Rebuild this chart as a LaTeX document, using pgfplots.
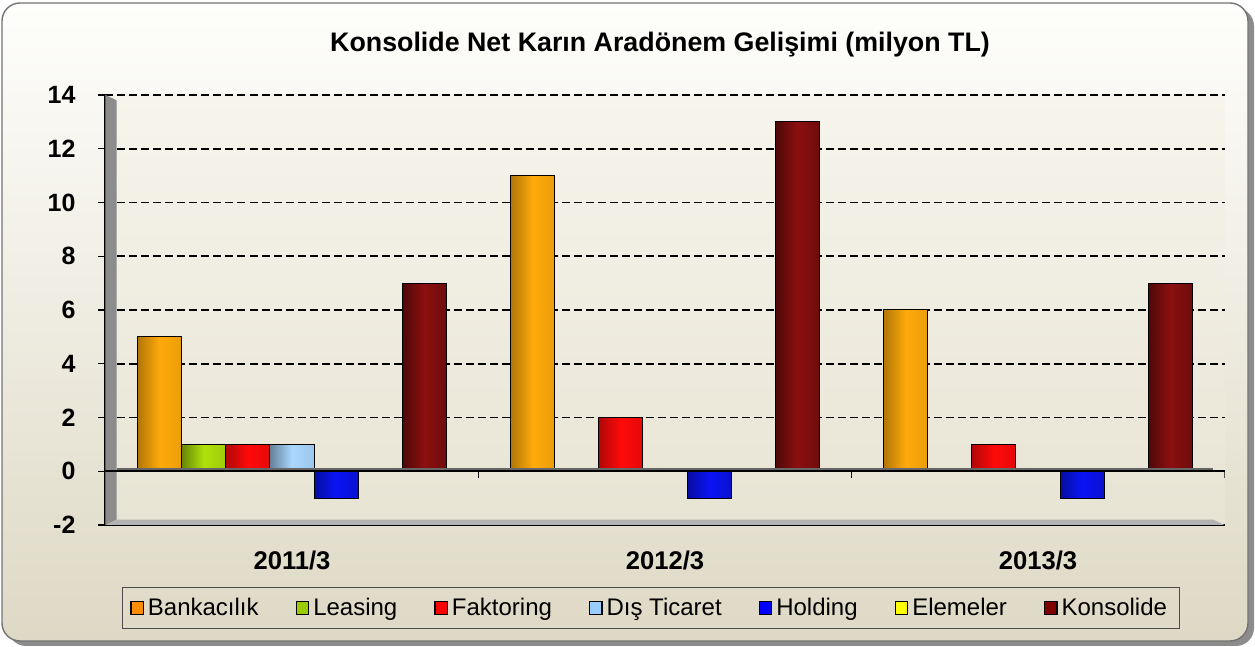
\documentclass[border=0pt]{standalone}
\usepackage{fontspec}
\setmainfont{Liberation Sans}
\usepackage{pgfplots}
\pgfplotsset{compat=1.18}
\definecolor{cBank}{RGB}{255,170,10}
\definecolor{cLeas}{RGB}{175,225,10}
\definecolor{cFakt}{RGB}{255,10,10}
\definecolor{cDis}{RGB}{170,215,255}
\definecolor{cHold}{RGB}{10,20,245}
\definecolor{cElem}{RGB}{255,255,0}
\definecolor{cKons}{RGB}{140,15,15}
\definecolor{lBank}{RGB}{255,140,0}
\definecolor{lLeas}{RGB}{153,204,0}
\definecolor{lFakt}{RGB}{255,0,0}
\definecolor{lDis}{RGB}{153,204,255}
\definecolor{lHold}{RGB}{0,0,255}
\definecolor{lElem}{RGB}{255,255,0}
\definecolor{lKons}{RGB}{128,0,0}
\definecolor{bgTop}{RGB}{254,254,252}
\definecolor{bgBot}{RGB}{222,217,197}
\definecolor{paTop}{RGB}{246,244,236}
\definecolor{paBot}{RGB}{232,228,212}
\pgfplotsset{
  sBank/.style={left color=cBank!70!black, right color=cBank!92!black, middle color=cBank},
  sLeas/.style={left color=cLeas!60!black, right color=cLeas!90!black, middle color=cLeas},
  sFakt/.style={left color=cFakt!70!black, right color=cFakt!90!black, middle color=cFakt},
  sDis/.style={left color=cDis!60!black, right color=cDis!92!black, middle color=cDis},
  sHold/.style={left color=cHold!65!black, right color=cHold!85!black, middle color=cHold},
  sElem/.style={left color=cElem!70!black, right color=cElem!90!black, middle color=cElem},
  sKons/.style={left color=cKons!55!black, right color=cKons!80!black, middle color=cKons},
}
\newcommand\onebar[4]{\addplot[forget plot, #1, bar shift=#2] coordinates {(#3,#4)};}
\newcommand\legbox[1]{\addlegendimage{legend image code/.code={\fill[#1] (0pt,-3.3pt) rectangle (6.2pt,3.3pt);
     \draw[black, line width=0.6pt] (0pt,-3.3pt) rectangle (6.2pt,3.3pt);}}}
\begin{document}
\begin{tikzpicture}
\begin{scope}[x=0.5pt,y=0.5pt]
\useasboundingbox (0,0) rectangle (1255,647);
\fill[black!45, rounded corners=9pt] (8,1) rectangle (1254,639);
\shade[top color=bgTop, bottom color=bgBot, rounded corners=9pt, draw=black!55, line width=0.7pt] (2,6) rectangle (1248,644);
\node[font=\bfseries\fontsize{13.4}{16}\selectfont] at (660,602) {Konsolide Net Karın Aradönem Gelişimi (milyon TL)};
\end{scope}
\begin{axis}[
  at={(52.75pt,61pt)}, anchor=south west,
  scale only axis, width=559.5pt, height=215pt,
  ybar, bar width=0.118,
  ymin=-2, ymax=14, ytick={-2,0,...,14},
  xmin=-0.5, xmax=2.5, xtick={0,1,2},
  xticklabels={2011/3,2012/3,2013/3},
  /pgf/number format/assume math mode=true,
  axis lines*=left,
  axis line style={black, line width=1pt},
  tick align=outside,
  major tick length=3.5pt,
  major x tick style={draw=none},
  ytick style={black, line width=0.7pt},
  ymajorgrids,
  major grid style={black, dash pattern=on 4pt off 2pt, line width=0.9pt},
  axis background/.style={top color=paTop, bottom color=paBot},
  y tick label style={font=\bfseries\fontsize{12.5}{14}\selectfont, xshift=-8pt},
  x tick label style={font=\bfseries\fontsize{12.8}{15}\selectfont, yshift=-6pt},
  legend columns=7,
  legend style={at={(0.0147,-0.193)}, anchor=west, draw=black!70, fill=none,
    font=\fontsize{12}{14}\selectfont, inner ysep=3pt, inner xsep=4pt,
    /tikz/every even column/.append style={column sep=16.5pt}},
  every axis plot/.append style={draw=black, line width=0.5pt},
]
% 2011/3
\onebar{sBank}{-0.354}{0}{5}
\onebar{sLeas}{-0.236}{0}{1}
\onebar{sFakt}{-0.118}{0}{1}
\onebar{sDis}{0}{0}{1}
\onebar{sHold}{0.118}{0}{-1}
\onebar{sKons}{0.354}{0}{7}
% 2012/3
\onebar{sBank}{-0.354}{1}{11}
\onebar{sFakt}{-0.118}{1}{2}
\onebar{sHold}{0.118}{1}{-1}
\onebar{sKons}{0.354}{1}{13}
% 2013/3
\onebar{sBank}{-0.354}{2}{6}
\onebar{sFakt}{-0.118}{2}{1}
\onebar{sHold}{0.118}{2}{-1}
\onebar{sKons}{0.354}{2}{7}
\legbox{lBank}
\legbox{lLeas}
\legbox{lFakt}
\legbox{lDis}
\legbox{lHold}
\legbox{lElem}
\legbox{lKons}
\legend{Bankacılık,Leasing,Faktoring,Dış Ticaret,Holding,Elemeler,Konsolide}
\fill[black!45] (axis cs:-0.5,-2) -- (axis cs:-0.5,14) -- (axis cs:-0.47,13.8) -- (axis cs:-0.47,-1.8) -- cycle;
\fill[black!30] (axis cs:-0.5,-2) -- (axis cs:2.5,-2) -- (axis cs:2.47,-1.8) -- (axis cs:-0.47,-1.8) -- cycle;
\draw[black!60, line width=1.5pt] (axis cs:-0.47,0.08) -- (axis cs:2.47,0.08);
\draw[black, line width=1.2pt] (axis cs:-0.5,0) -- (axis cs:2.5,0);
\draw[black, line width=0.7pt] (axis cs:0.5,0) -- ++(0pt,-3.5pt);
\draw[black, line width=0.7pt] (axis cs:1.5,0) -- ++(0pt,-3.5pt);
\draw[black, line width=0.7pt] (axis cs:2.5,0) -- ++(0pt,-3.5pt);
\end{axis}
\end{tikzpicture}
\end{document}
